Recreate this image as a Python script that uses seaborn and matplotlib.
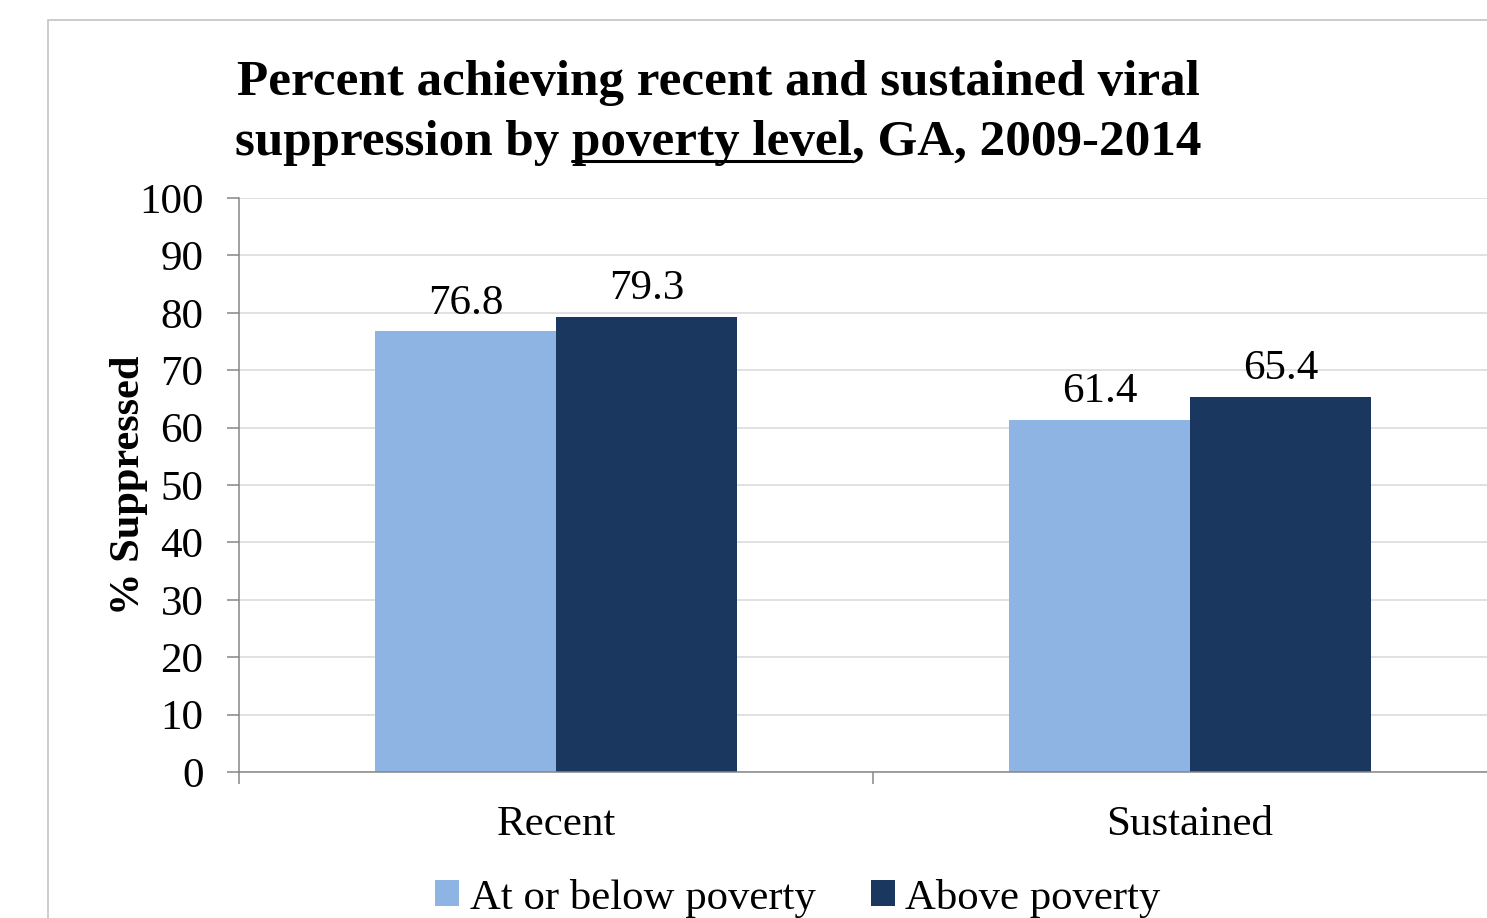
import matplotlib
matplotlib.use("Agg")
import matplotlib.pyplot as plt
from matplotlib.patches import Patch, Rectangle
from matplotlib.lines import Line2D
import seaborn as sns
import pandas as pd

# Data
measures = ["Recent", "Sustained"]
groups = ["At or below poverty", "Above poverty"]
at_or_below = [76.8, 61.4]
above = [79.3, 65.4]
y_ticks = [0, 10, 20, 30, 40, 50, 60, 70, 80, 90, 100]

colors = ["#8EB4E3", "#1A375F"]

df = pd.DataFrame({
    "measure": measures * 2,
    "poverty": [groups[0]] * 2 + [groups[1]] * 2,
    "pct": at_or_below + above,
})

sns.set_theme(style="white")
plt.rcParams["font.family"] = ["Liberation Serif", "DejaVu Serif"]
plt.rcParams.update({"text.color": "black", "axes.labelcolor": "black",
                     "xtick.labelcolor": "black", "ytick.labelcolor": "black"})

W, H = 1487, 918
fig = plt.figure(figsize=(W / 100, H / 100), dpi=100)

# outer chart frame
fig.patches.append(Rectangle((48 / W, -0.1), 1.2, (H - 20) / H + 0.1,
                             transform=fig.transFigure, fill=False,
                             edgecolor="#C4C4C4", linewidth=1.2, zorder=0))

ax_left, ax_right, ax_top, ax_bot = 239, 1507, 198, 772
ax = fig.add_axes([ax_left / W, 1 - ax_bot / H,
                   (ax_right - ax_left) / W, (ax_bot - ax_top) / H])

sns.barplot(data=df, x="measure", y="pct", hue="poverty", hue_order=groups,
            order=measures, palette=colors, saturation=1, width=0.571,
            ax=ax, legend=False, linewidth=0, edgecolor="none")

ax.set_ylim(0, 100)
ax.set_xlim(-0.5, 1.5)
ax.set_yticks(y_ticks)
ax.set_yticklabels([str(t) for t in y_ticks])
ax.yaxis.grid(True, color="#D9D9D9", linewidth=1.1)
ax.set_axisbelow(True)

for side in ["top", "right"]:
    ax.spines[side].set_visible(False)
for side in ["left", "bottom"]:
    ax.spines[side].set_color("#868686")
    ax.spines[side].set_linewidth(1.1)

ax.tick_params(axis="y", which="major", direction="out", length=8.6, width=1.1,
               color="#868686", pad=17, labelsize=31, left=True,
               labelcolor="black")
ax.set_xticks([0, 1])
ax.set_xticklabels(measures)
ax.set_xticks([-0.5, 0.5, 1.5], minor=True)
ax.tick_params(axis="x", which="major", length=0, pad=24, labelsize=31,
               labelcolor="black")
ax.tick_params(axis="x", which="minor", direction="out", length=8.6, width=1.1,
               color="#868686", bottom=True)

ax.set_xlabel("")
ax.set_ylabel("% Suppressed", fontsize=30.5, fontweight="bold", color="black")
ax.yaxis.set_label_coords((148 - ax_left) / (ax_right - ax_left), 0.5)

for cont in ax.containers:
    ax.bar_label(cont, fmt="%.1f", fontsize=31, padding=6, color="black")

# Title, with "poverty level" underlined
title_size = 36.8
fig.text(718 / W, 1 - 95 / H, "Percent achieving recent and sustained viral",
         ha="center", va="baseline", fontsize=title_size, fontweight="bold",
         color="black")

parts = ["suppression by ", "poverty level", ", GA, 2009-2014"]
renderer = fig.canvas.get_renderer()
tmp = [fig.text(0, 0, p, fontsize=title_size, fontweight="bold") for p in parts]
widths = [t.get_window_extent(renderer).width for t in tmp]
for t in tmp:
    t.remove()
total = sum(widths)
x = 718 - total / 2
base_y = 155
for p, w in zip(parts, widths):
    fig.text(x / W, 1 - base_y / H, p, ha="left", va="baseline",
             fontsize=title_size, fontweight="bold", color="black")
    if p == "poverty level":
        fig.add_artist(Line2D([x / W, (x + w) / W],
                              [1 - (base_y + 6) / H, 1 - (base_y + 6) / H],
                              transform=fig.transFigure, color="black",
                              linewidth=2.2))
    x += w

handles = [Patch(facecolor=c, edgecolor="none", label=g) for c, g in zip(colors, groups)]
leg = fig.legend(handles=handles, loc="center", bbox_to_anchor=(798 / W, 1 - 898 / H),
                 ncol=2, frameon=False, fontsize=30.8, handlelength=0.55,
                 handleheight=0.55, handletextpad=0.25, columnspacing=1.3,
                 borderpad=0)
for t in leg.get_texts():
    t.set_color("black")

fig.savefig("out.png", dpi=100)
